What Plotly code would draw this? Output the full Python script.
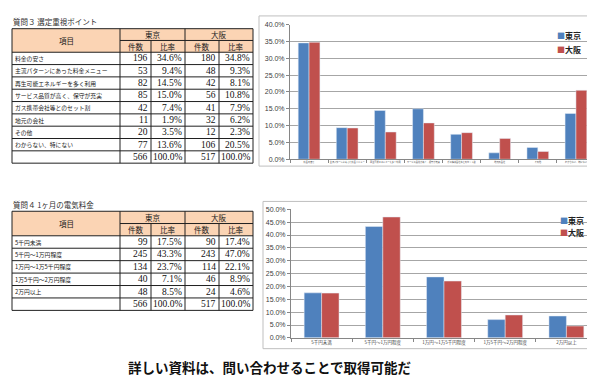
import plotly.graph_objects as go

# ---------------- data ----------------
series_names = ["東京", "大阪"]
sub_headers = ["件数", "比率"]
item_header = "項目"

q3_title = "質問３ 選定重視ポイント"
q3_items = ["料金の安さ", "主流パターンにあった料金メニュー", "再生可能エネルギーを多く利用",
            "サービス品質が高く、保守が充実", "ガス携帯会社等とのセット割", "地元の会社",
            "その他", "わからない、特にない"]
q3_tokyo_n = [196, 53, 82, 85, 42, 11, 20, 77]
q3_tokyo_pct = [34.6, 9.4, 14.5, 15.0, 7.4, 1.9, 3.5, 13.6]
q3_osaka_n = [180, 48, 42, 56, 41, 32, 12, 106]
q3_osaka_pct = [34.8, 9.3, 8.1, 10.8, 7.9, 6.2, 2.3, 20.5]
q3_totals = [566, 100.0, 517, 100.0]
q3_yticks = [0, 5, 10, 15, 20, 25, 30, 35, 40]

q4_title = "質問４ 1ヶ月の電気料金"
q4_items = ["5千円未満", "5千円～1万円程度", "1万円～1万5千円程度", "1万5千円～2万円程度", "2万円以上"]
q4_tokyo_n = [99, 245, 134, 40, 48]
q4_tokyo_pct = [17.5, 43.3, 23.7, 7.1, 8.5]
q4_osaka_n = [90, 243, 114, 46, 24]
q4_osaka_pct = [17.4, 47.0, 22.1, 8.9, 4.6]
q4_totals = [566, 100.0, 517, 100.0]
q4_yticks = [0, 5, 10, 15, 20, 25, 30, 35, 40, 45, 50]

caption = "詳しい資料は、問い合わせることで取得可能だ"

# ---------------- style ----------------
W, H = 595, 379
BLUE = "#4F81BD"
RED = "#C0504D"
HDR_FILL = "#FBD4B4"
JP = "Noto Sans CJK JP"
NUM = "Liberation Serif"
SANS = "Liberation Sans"


def px(x):
    return x / W


def py(y):
    return 1 - y / H


def pct_labels(vals):
    return [f"{v:.1f}%" for v in vals]


fig = go.Figure()

# ---------------- bar charts ----------------
fig.add_trace(go.Bar(x=q3_items, y=q3_tokyo_pct, name=series_names[0], marker_color=BLUE,
                     xaxis="x", yaxis="y", showlegend=False))
fig.add_trace(go.Bar(x=q3_items, y=q3_osaka_pct, name=series_names[1], marker_color=RED,
                     xaxis="x", yaxis="y", showlegend=False))
fig.add_trace(go.Bar(x=q4_items, y=q4_tokyo_pct, name=series_names[0], marker_color=BLUE,
                     xaxis="x2", yaxis="y2", showlegend=False))
fig.add_trace(go.Bar(x=q4_items, y=q4_osaka_pct, name=series_names[1], marker_color=RED,
                     xaxis="x2", yaxis="y2", showlegend=False))

yax_common = dict(showgrid=True, gridcolor="#A6A6A6",
                  gridwidth=1, showline=True, linecolor="#868686", linewidth=1,
                  ticks="outside", ticklen=3, tickcolor="#868686",
                  tickfont=dict(family=SANS, size=7, color="#404040"), zeroline=False)
xax_common = dict(showline=True, linecolor="#868686", linewidth=1, ticks="outside",
                  ticklen=3, tickcolor="#868686", tickson="boundaries", showgrid=False,
                  tickangle=0)

fig.update_layout(
    width=W, height=H, autosize=False,
    margin=dict(l=0, r=0, t=0, b=0),
    paper_bgcolor="white", plot_bgcolor="rgba(0,0,0,0)",
    barmode="group", bargap=0.43, bargroupgap=0,
    xaxis=dict(domain=[px(282), px(587)], anchor="y",
               tickfont=dict(family=JP, size=2.2, color="#404040"), **xax_common),
    yaxis=dict(domain=[py(150), py(13)], anchor="x", range=[0, 40],
               tickvals=q3_yticks, ticktext=pct_labels(q3_yticks), **yax_common),
    xaxis2=dict(domain=[px(283), px(589)], anchor="y2",
                tickfont=dict(family=JP, size=4.5, color="#404040"), **xax_common),
    yaxis2=dict(domain=[py(332), py(201)], anchor="x2", range=[0, 50],
                tickvals=q4_yticks, ticktext=pct_labels(q4_yticks), **yax_common),
    xaxis3=dict(domain=[0, 1], range=[0, W], visible=False, anchor="y3", fixedrange=True),
    yaxis3=dict(domain=[0, 1], range=[H, 0], visible=False, anchor="x3", fixedrange=True),
)

shapes = []
annotations = []

# chart frames
for (x0, y0, x1, y1) in [(251, 4, 591, 157), (255, 193, 593, 343)]:
    shapes.append(dict(type="rect", xref="paper", yref="paper", x0=px(x0), y0=py(y0),
                       x1=px(x1), y1=py(y1), line=dict(color="#BFBFBF", width=1), layer="below"))

# legends (drawn as text keys)
for (lx, ly0, dy) in [(547, 24, 14), (550, 212, 13)]:
    for i, (nm, col) in enumerate(zip(series_names, [BLUE, RED])):
        annotations.append(dict(
            xref="x3", yref="y3", x=lx, y=ly0 + i * dy, xanchor="left", yanchor="middle",
            text=f"<span style='color:{col}'>■</span><b>{nm}</b>", showarrow=False,
            font=dict(family=JP, size=8, color="#202020")))

# ---------------- tables ----------------
col_edges = [4, 112, 143, 177, 211, 245]


def fmt_pct(v):
    return f"{v:.1f}%"


def draw_table(title, top, hdr_h, bottom, items, tn, tp, on, op, totals):
    nrows = len(items) + 1
    hdr_bot = top + 2 * hdr_h
    row_h = (bottom - hdr_bot) / nrows
    left, right = col_edges[0], col_edges[-1]
    # title
    annotations.append(dict(xref="x3", yref="y3", x=left - 1, y=top - 7, xanchor="left",
                            yanchor="middle", text=title, showarrow=False,
                            font=dict(family=JP, size=7.5, color="#303030")))
    # header fill
    shapes.append(dict(type="rect", xref="x3", yref="y3", x0=left, x1=right, y0=top,
                       y1=hdr_bot, fillcolor=HDR_FILL, line=dict(width=0), layer="below"))
    line = dict(color="#202020", width=1)
    # horizontal lines
    shapes.append(dict(type="line", xref="x3", yref="y3", x0=left, x1=right, y0=top, y1=top, line=line))
    shapes.append(dict(type="line", xref="x3", yref="y3", x0=col_edges[1], x1=right,
                       y0=top + hdr_h, y1=top + hdr_h, line=line))
    for r in range(nrows + 1):
        yy = hdr_bot + r * row_h
        shapes.append(dict(type="line", xref="x3", yref="y3", x0=left, x1=right, y0=yy, y1=yy, line=line))
    # vertical lines
    for i, xx in enumerate(col_edges):
        y0 = top + hdr_h if i in (2, 4) else top
        shapes.append(dict(type="line", xref="x3", yref="y3", x0=xx, x1=xx, y0=y0, y1=bottom, line=line))
    # header text
    annotations.append(dict(xref="x3", yref="y3", x=(col_edges[0] + col_edges[1]) / 2,
                            y=top + hdr_h, text=item_header, showarrow=False,
                            font=dict(family=JP, size=7.5, color="#202020")))
    for k, nm in enumerate(series_names):
        annotations.append(dict(xref="x3", yref="y3",
                                x=(col_edges[1 + 2 * k] + col_edges[3 + 2 * k]) / 2,
                                y=top + hdr_h / 2, text=nm, showarrow=False,
                                font=dict(family=JP, size=7.5, color="#202020")))
        for j, sh in enumerate(sub_headers):
            c = 1 + 2 * k + j
            annotations.append(dict(xref="x3", yref="y3", x=(col_edges[c] + col_edges[c + 1]) / 2,
                                    y=top + 1.5 * hdr_h, text=sh, showarrow=False,
                                    font=dict(family=JP, size=7.5, color="#202020")))
    # body
    rows = [(items[i], [str(tn[i]), fmt_pct(tp[i]), str(on[i]), fmt_pct(op[i])]) for i in range(len(items))]
    rows.append(("", [str(totals[0]), fmt_pct(totals[1]), str(totals[2]), fmt_pct(totals[3])]))
    for r, (label, vals) in enumerate(rows):
        yc = hdr_bot + (r + 0.5) * row_h
        if label:
            annotations.append(dict(xref="x3", yref="y3", x=left + 1, y=yc, xanchor="left",
                                    yanchor="middle", text=label, showarrow=False,
                                    font=dict(family=JP, size=5.8, color="#202020")))
        for c, v in enumerate(vals):
            annotations.append(dict(xref="x3", yref="y3", x=col_edges[c + 2] - 1.5, y=yc,
                                    xanchor="right", yanchor="middle", text=v, showarrow=False,
                                    font=dict(family=NUM, size=9.5, color="#101010")))


draw_table(q3_title, 17, 12, 154, q3_items, q3_tokyo_n, q3_tokyo_pct, q3_osaka_n, q3_osaka_pct, q3_totals)
draw_table(q4_title, 203, 12.5, 304, q4_items, q4_tokyo_n, q4_tokyo_pct, q4_osaka_n, q4_osaka_pct, q4_totals)

# caption
annotations.append(dict(xref="x3", yref="y3", x=261, y=362, xanchor="center", yanchor="middle",
                        text=f"<b>{caption}</b>", showarrow=False,
                        font=dict(family=JP, size=13.5, color="#111111")))

fig.update_layout(shapes=shapes, annotations=annotations)
fig.write_html("out.html")
